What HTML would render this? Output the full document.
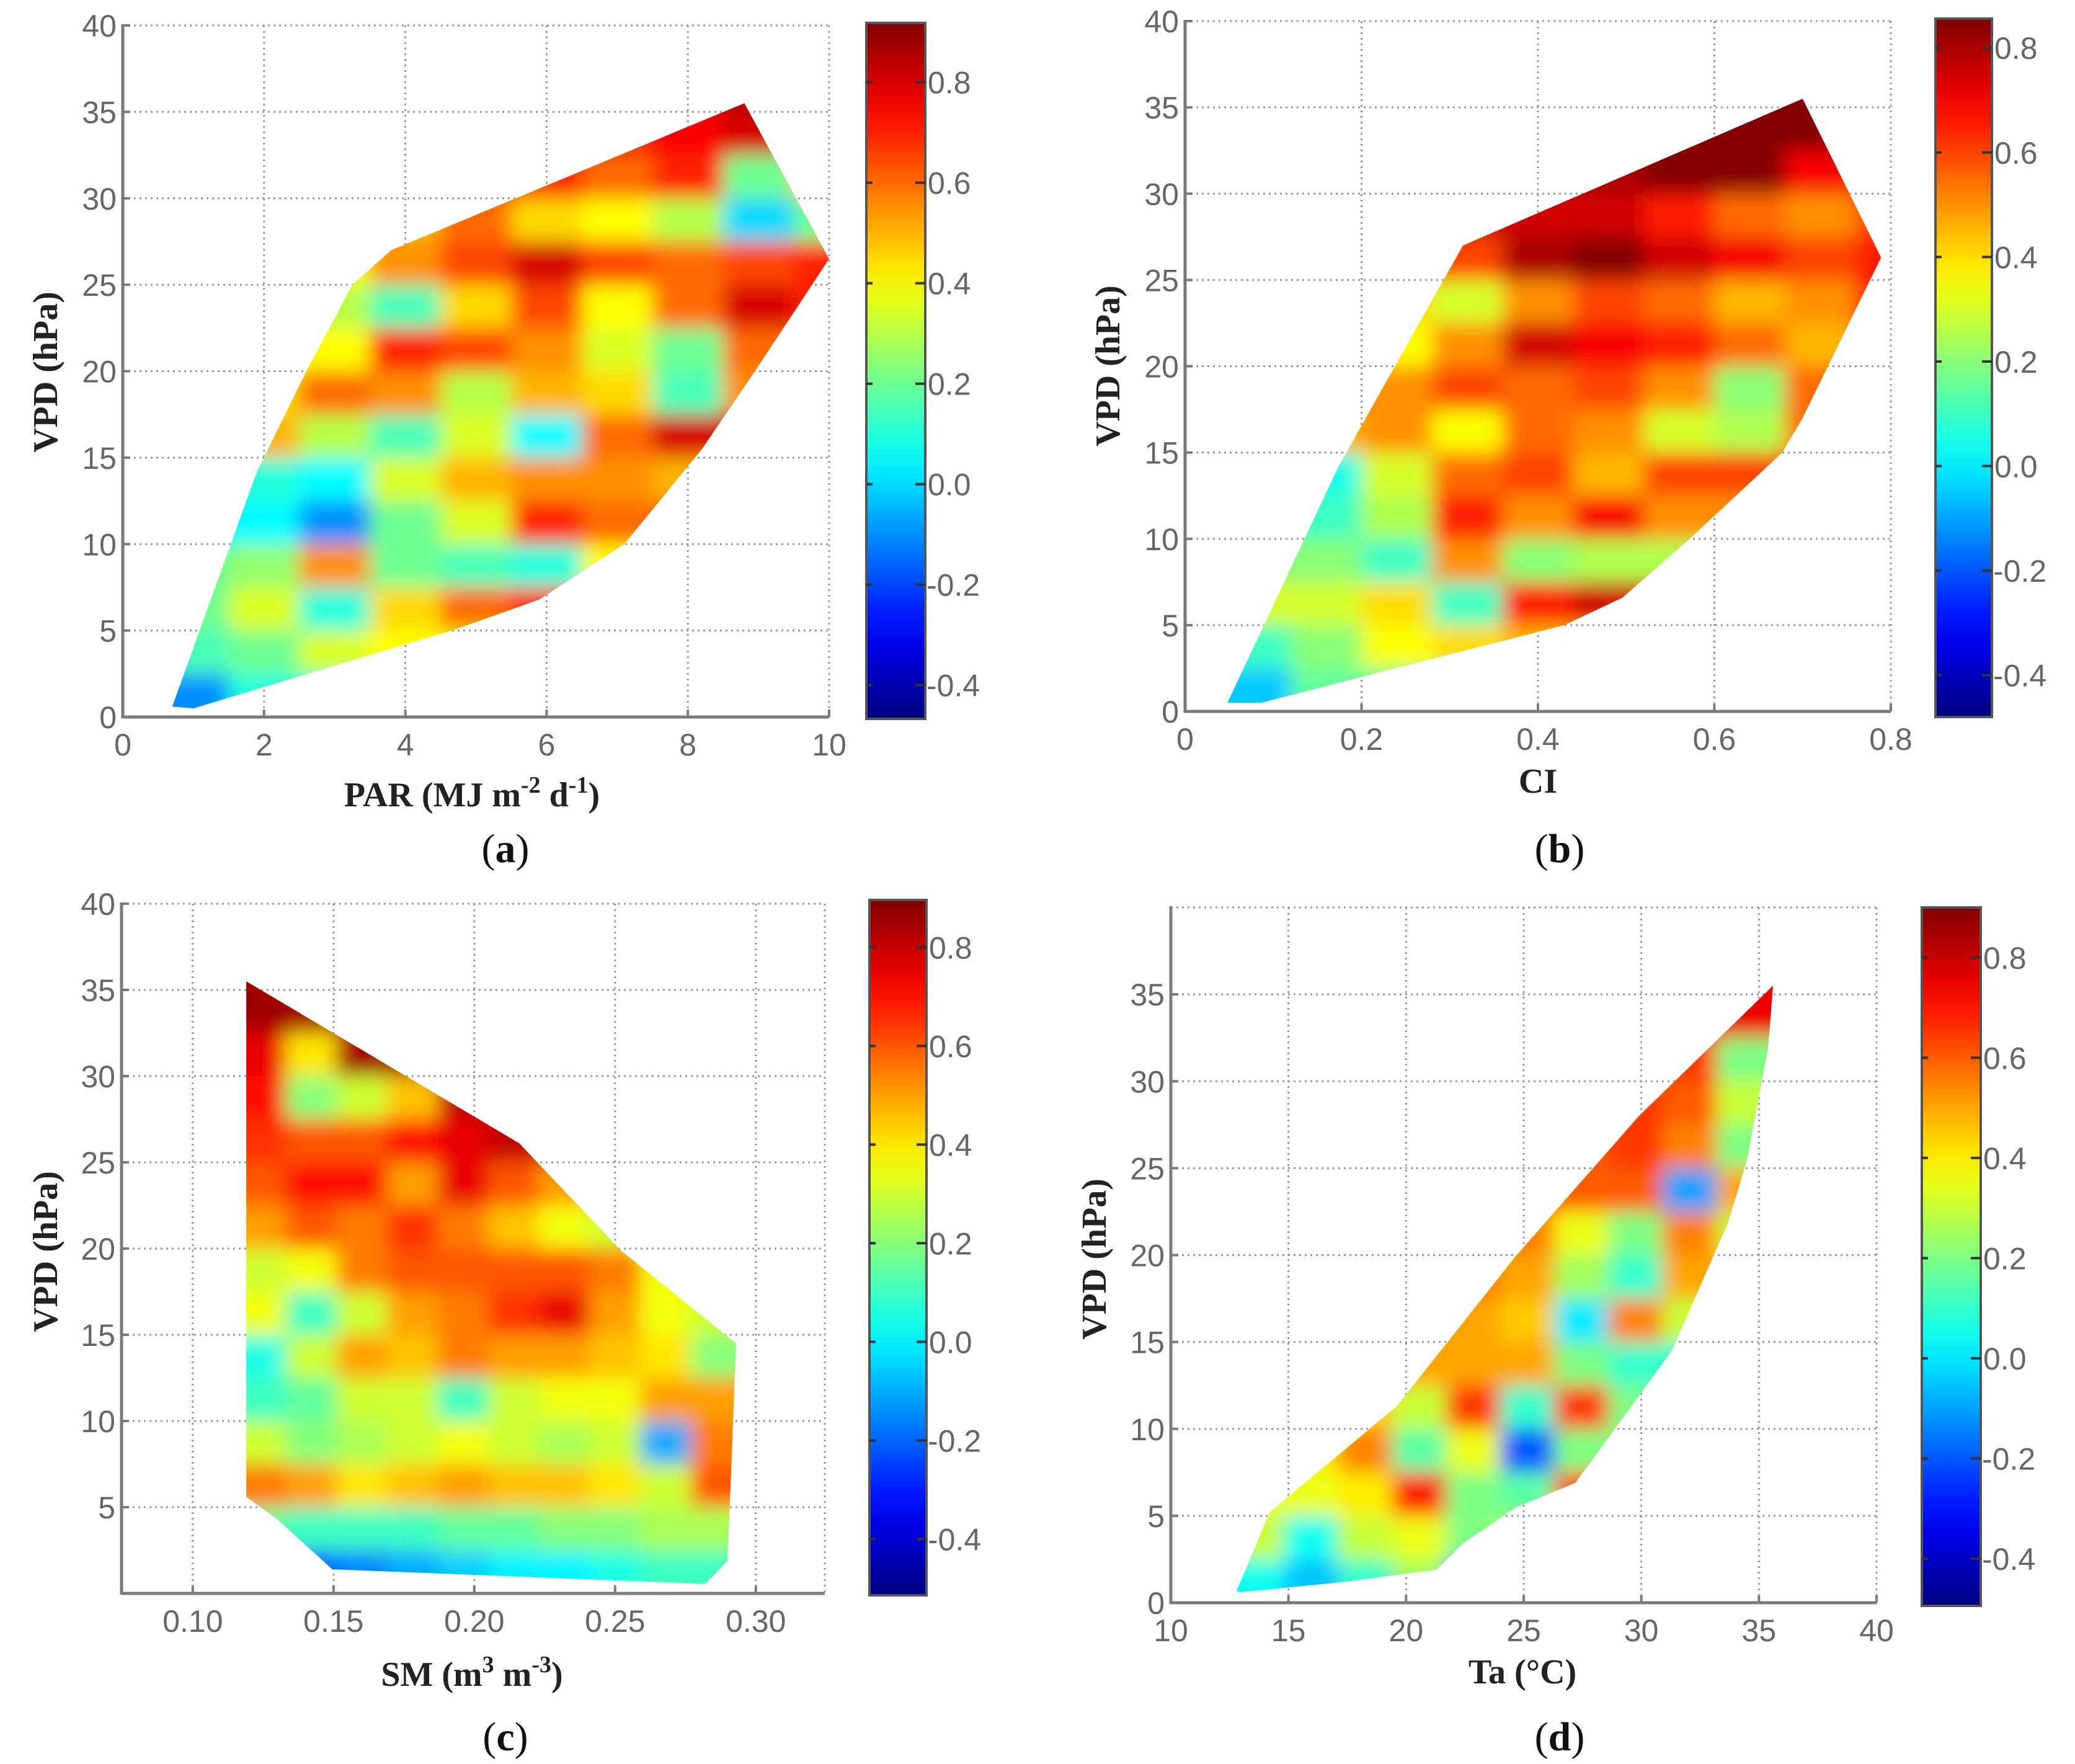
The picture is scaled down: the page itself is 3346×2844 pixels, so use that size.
<!DOCTYPE html>
<html><head><meta charset="utf-8"><title>VPD correlation maps</title>
<style>
html,body{margin:0;padding:0;background:#fff;}
svg{display:block;}
.tick{font-family:"Liberation Sans",sans-serif;font-size:50px;fill:#666;}
.axl{font-family:"Liberation Serif",serif;font-weight:bold;font-size:56px;fill:#222;}
.pl{font-family:"Liberation Serif",serif;font-size:66px;fill:#111;}
</style></head>
<body>
<svg id="fig" width="3346" height="2844" viewBox="0 0 3346 2844" xmlns="http://www.w3.org/2000/svg">
<defs>
<filter id="soft" x="-10%" y="-10%" width="120%" height="120%"><feGaussianBlur stdDeviation="16"/></filter>
</defs>
<g id="layer"></g>
<text class="axl" transform="translate(92,600) rotate(-90)" text-anchor="middle">VPD (hPa)</text>
<text class="axl" x="761" y="1300" text-anchor="middle">PAR (MJ m<tspan dy="-22" font-size="38">-2</tspan><tspan dy="22"> d</tspan><tspan dy="-22" font-size="38">-1</tspan><tspan dy="22">)</tspan></text>
<text class="pl" x="815" y="1390" text-anchor="middle">(<tspan font-weight="bold">a</tspan>)</text>
<text class="axl" transform="translate(1805,590) rotate(-90)" text-anchor="middle">VPD (hPa)</text>
<text class="axl" x="2480" y="1278" text-anchor="middle">CI</text>
<text class="pl" x="2515" y="1390" text-anchor="middle">(<tspan font-weight="bold">b</tspan>)</text>
<text class="axl" transform="translate(92,2018) rotate(-90)" text-anchor="middle">VPD (hPa)</text>
<text class="axl" x="761" y="2718" text-anchor="middle">SM (m<tspan dy="-22" font-size="38">3</tspan><tspan dy="22"> m</tspan><tspan dy="-22" font-size="38">-3</tspan><tspan dy="22">)</tspan></text>
<text class="pl" x="815" y="2822" text-anchor="middle">(<tspan font-weight="bold">c</tspan>)</text>
<text class="axl" transform="translate(1783,2030) rotate(-90)" text-anchor="middle">VPD (hPa)</text>
<text class="axl" x="2455" y="2714" text-anchor="middle">Ta (°C)</text>
<text class="pl" x="2515" y="2822" text-anchor="middle">(<tspan font-weight="bold">d</tspan>)</text>
</svg>
<script>
// ---- shared data ----
const vpdBandTops = [37.5,35,32.5,30,27.5,25,22.5,20,17.5,15,12.5,10,7.5,5,2.5];
const vpdBandHeight = 2.5;
const cbarTicks = [-0.4,-0.2,0,0.2,0.4,0.6,0.8];
const cbarTickLabels = ["-0.4","-0.2","0.0","0.2","0.4","0.6","0.8"];
const n = null;

// ---- panel a: PAR ----
const parColCenters = [1,2,3,4,5,6,7,8,9,10];
const parGrid = [
 [n,n,n,n,n,n,n,.8,.85,n],
 [n,n,n,n,n,n,.7,.75,.8,.75],
 [n,n,n,n,n,.7,.6,.7,.2,.5],
 [n,n,n,.5,.6,.45,.4,.3,0,.2],
 [n,n,.4,.55,.65,.8,.65,.6,.65,.7],
 [n,n,.3,.15,.45,.65,.4,.6,.8,.7],
 [n,n,.4,.7,.65,.55,.35,.2,.6,.6],
 [n,.45,.6,.55,.3,.5,.45,.15,.55,n],
 [n,.5,.3,.15,.35,.05,.6,.8,n,n],
 [n,.1,.05,.35,.5,.55,.55,.5,n,n],
 [n,.05,-.1,.2,.35,.7,.6,n,n,n],
 [.2,.25,.55,.2,.15,.1,.4,n,n,n],
 [.2,.35,.1,.45,.6,.7,n,n,n,n],
 [.15,.2,.35,.4,n,n,n,n,n,n],
 [-.1,.1,n,n,n,n,n,n,n,n]];
const parOutlineX = [0.7,1.9,2.6,3.25,3.8,8.8,10,8.95,8.2,7.1,5.9,4.66,4,1,0.7];
const parOutlineY = [0.6,14.2,20,25,27,35.5,26.5,20,15.5,10,6.8,5,4.2,0.5,0.6];
const parXTicks = [0,2,4,6,8,10];
const parXTickLabels = ["0","2","4","6","8","10"];
const parYTicks = [0,5,10,15,20,25,30,35,40];

// ---- panel b: CI ----
const ciColCenters = [0.08,0.16,0.24,0.32,0.40,0.48,0.56,0.64,0.72,0.80];
const ciGrid = [
 [n,n,n,n,n,n,n,.85,.85,n],
 [n,n,n,n,n,n,.85,.85,.85,n],
 [n,n,n,n,.8,.8,.85,.85,.7,.6],
 [n,n,n,n,.75,.75,.65,.55,.5,.6],
 [n,n,n,.6,.8,.85,.75,.7,.6,.65],
 [n,n,.4,.3,.5,.6,.55,.45,.5,.65],
 [n,n,.35,.5,.75,.7,.65,.55,.45,.6],
 [n,n,.5,.6,.55,.6,.5,.2,.55,n],
 [n,.45,.5,.35,.55,.5,.3,.25,.55,n],
 [n,.05,.3,.55,.6,.45,.6,.6,n,n],
 [n,.1,.25,.65,.5,.7,.5,n,n,n],
 [n,.2,.1,.5,.2,.25,.25,n,n,n],
 [n,.3,.4,.1,.65,.75,n,n,n,n],
 [.1,.2,.35,.4,.45,n,n,n,n,n],
 [-.05,.15,n,n,n,n,n,n,n,n]];
const ciOutlineX = [0.048,0.174,0.315,0.70,0.789,0.70,0.677,0.572,0.496,0.43,0.086,0.048];
const ciOutlineY = [0.5,14.2,27,35.5,26.3,17,15,10,6.6,5,0.5,0.5];
const ciXTicks = [0,0.2,0.4,0.6,0.8];
const ciXTickLabels = ["0","0.2","0.4","0.6","0.8"];
const ciYTicks = [0,5,10,15,20,25,30,35,40];

// ---- panel c: SM ----
const smColCenters = [0.124,0.142,0.160,0.178,0.196,0.214,0.232,0.250,0.268,0.286];
const smGrid = [
 [.85,n,n,n,n,n,n,n,n,n],
 [.85,.85,.8,n,n,n,n,n,n,n],
 [.75,.4,.85,.85,n,n,n,n,n,n],
 [.7,.2,.3,.45,.8,.85,n,n,n,n],
 [.65,.6,.6,.7,.75,.8,.8,n,n,n],
 [.6,.7,.7,.5,.75,.6,.5,n,n,n],
 [.5,.6,.55,.65,.55,.45,.35,.3,n,n],
 [.3,.35,.55,.6,.6,.6,.6,.55,.35,.3],
 [.35,.1,.3,.5,.55,.65,.75,.5,.35,.3],
 [.05,.3,.5,.45,.55,.5,.5,.45,.4,.2],
 [.1,.15,.3,.3,.1,.3,.35,.35,.5,.5],
 [.3,.2,.25,.3,.35,.3,.25,.3,-.1,.55],
 [.55,.5,.4,.45,.5,.45,.45,.4,.3,.6],
 [.15,.1,.1,.1,.15,.15,.2,.2,.25,.25],
 [-.2,-.2,-.15,-.1,-.05,0,0,.05,.1,.1]];
const smOutlineX = [0.119,0.216,0.252,0.293,0.29,0.282,0.1496,0.13,0.119,0.119];
const smOutlineY = [35.5,26.1,19.9,14.5,1.9,0.55,1.4,4.3,5.6,35.5];
const smXTicks = [0.10,0.15,0.20,0.25,0.30];
const smXTickLabels = ["0.10","0.15","0.20","0.25","0.30"];
const smYTicks = [5,10,15,20,25,30,35,40];

// ---- panel d: Ta ----
const taColCenters = [13.65,15.95,18.25,20.55,22.85,25.15,27.45,29.75,32.05,34.35];
const taGrid = [
 [n,n,n,n,n,n,n,n,n,.75],
 [n,n,n,n,n,n,n,n,.7,.75],
 [n,n,n,n,n,n,n,n,.65,.2],
 [n,n,n,n,n,n,n,.65,.6,.3],
 [n,n,n,n,n,n,.6,.65,.55,.2],
 [n,n,n,n,n,n,.6,.6,-.1,.5],
 [n,n,n,n,n,.55,.35,.2,.55,.3],
 [n,n,n,n,.55,.5,.25,.1,.5,n],
 [n,n,n,n,.5,.45,0,.55,.3,n],
 [n,n,n,.5,.5,.5,.2,.1,n,n],
 [n,n,.45,.3,.65,.1,.65,.2,n,n],
 [n,.4,.55,.15,.35,-.2,.2,n,n,n],
 [n,.35,.4,.7,.2,.15,.65,n,n,n],
 [.3,.05,.3,.35,.2,.3,n,n,n,n],
 [.05,-.05,.1,.25,-.1,n,n,n,n,n]];
const taOutlineX = [12.8,14.2,19.6,24.7,29.9,35.6,35.4,34.5,33.7,31.3,29.2,27.2,24.7,22.4,21.3,17.4,12.9];
const taOutlineY = [0.7,5.2,11.3,20,28,35.5,32,25.5,21.9,14.5,10.6,6.9,5.5,3.4,1.9,1.2,0.6];
const taXTicks = [10,15,20,25,30,35,40];
const taXTickLabels = ["10","15","20","25","30","35","40"];
const taYTicks = [0,5,10,15,20,25,30,35];

// ---- layout (pixels) ----
const panels = [
 {id:'a',L:198,R:1337,T:41,B:1156,x0:0,x1:10,cb:[1397,1492,37,1159],c0:-0.467,c1:0.918,cols:parColCenters,grid:parGrid,ox:parOutlineX,oy:parOutlineY,xt:parXTicks,xl:parXTickLabels,yt:parYTicks},
 {id:'b',L:1911,R:3049,T:34,B:1147,x0:0,x1:0.8,cb:[3121,3212,30,1156],c0:-0.48,c1:0.856,cols:ciColCenters,grid:ciGrid,ox:ciOutlineX,oy:ciOutlineY,xt:ciXTicks,xl:ciXTickLabels,yt:ciYTicks},
 {id:'c',L:196,R:1330,T:1457,B:2569,x0:0.0747,x1:0.3245,cb:[1402,1494,1451,2572],c0:-0.514,c1:0.896,cols:smColCenters,grid:smGrid,ox:smOutlineX,oy:smOutlineY,xt:smXTicks,xl:smXTickLabels,yt:smYTicks},
 {id:'d',L:1888,R:3026,T:1463,B:2584,x0:10,x1:40,cb:[3099,3194,1463,2589],c0:-0.494,c1:0.90,cols:taColCenters,grid:taGrid,ox:taOutlineX,oy:taOutlineY,xt:taXTicks,xl:taXTickLabels,yt:taYTicks}
];

const NS = 'http://www.w3.org/2000/svg';
const layer = document.getElementById('layer');
function mk(tag, parent){ const e=document.createElementNS(NS,tag); parent.appendChild(e); return e; }
function cl(v){ return Math.max(0,Math.min(1,v)); }
function jet(t){
  t=cl(t);
  const r=cl(1.5-Math.abs(4*t-3)), g=cl(1.5-Math.abs(4*t-2)), b=cl(1.5-Math.abs(4*t-1));
  return 'rgb('+Math.round(r*255)+','+Math.round(g*255)+','+Math.round(b*255)+')';
}
function fillRow(row){
  const out=row.slice();
  for(let i=0;i<row.length;i++){
    if(out[i]===null){
      let best=null,bd=1e9;
      for(let j=0;j<row.length;j++){ if(row[j]!==null && Math.abs(j-i)<bd){bd=Math.abs(j-i);best=row[j];} }
      out[i]=best;
    }
  }
  return out;
}

panels.forEach(p=>{
  const sx = v => p.L + (v-p.x0)/(p.x1-p.x0)*(p.R-p.L);
  const sy = v => p.B - v/40*(p.B-p.T);
  const g = mk('g', layer);
  
  

  const grid = mk('g', g);
  
  
  p.xt.forEach(v=>{
    const l=mk('line',grid); l.setAttribute('x1',sx(v)); l.setAttribute('x2',sx(v)); l.setAttribute('y1',p.T); l.setAttribute('y2',p.B);
    l.setAttribute('stroke','#9a9a9a'); l.setAttribute('stroke-width','3'); l.setAttribute('stroke-dasharray','3 6');
  });
  [0,5,10,15,20,25,30,35,40].forEach(v=>{
    const l=mk('line',grid); l.setAttribute('x1',p.L); l.setAttribute('x2',p.R); l.setAttribute('y1',sy(v)); l.setAttribute('y2',sy(v));
    l.setAttribute('stroke','#9a9a9a'); l.setAttribute('stroke-width','3'); l.setAttribute('stroke-dasharray','3 6');
  });
  const rt=mk('line',grid); rt.setAttribute('x1',p.R); rt.setAttribute('x2',p.R); rt.setAttribute('y1',p.T); rt.setAttribute('y2',p.B);
  rt.setAttribute('stroke','#9a9a9a'); rt.setAttribute('stroke-width','3'); rt.setAttribute('stroke-dasharray','3 6');

  const cp = mk('clipPath', g); cp.setAttribute('id','clip-'+p.id);
  const poly = mk('polygon', cp);
  poly.setAttribute('points', p.ox.map((x,i)=>sx(x)+','+sy(p.oy[i])).join(' '));

  const clipG = mk('g', g);
  clipG.setAttribute('clip-path','url(#clip-'+p.id+')');
  
  
  const blurG = mk('g', clipG);
  blurG.setAttribute('filter','url(#soft)');
  const cols = p.cols;
  const edges = [];
  for(let i=0;i<=cols.length;i++){
    if(i===0) edges.push(cols[0]-(cols[1]-cols[0])/2);
    else if(i===cols.length) edges.push(cols[i-1]+(cols[i-1]-cols[i-2])/2);
    else edges.push((cols[i-1]+cols[i])/2);
  }
  const pad = (cols[1]-cols[0])*1.5;
  p.grid.forEach((rawRow,ri)=>{
    const row = fillRow(rawRow);
    const top = vpdBandTops[ri], bot = top - vpdBandHeight;
    row.forEach((val,ci)=>{
      let xa = edges[ci], xb = edges[ci+1];
      if(ci===0) xa -= pad;
      if(ci===row.length-1) xb += pad;
      let yt = top + (ri===0?2.5:0), yb = bot - (ri===p.grid.length-1?2.5:0);
      const r = mk('rect', blurG);
      
      
      r.setAttribute('x', sx(xa)); r.setAttribute('width', sx(xb)-sx(xa)+1);
      r.setAttribute('y', sy(yt)); r.setAttribute('height', sy(yb)-sy(yt)+1);
      r.setAttribute('fill', jet((val-p.c0)/(p.c1-p.c0)));
    });
  });

  const ax = mk('g', g);
  
  
  const yl=mk('line',ax); yl.setAttribute('x1',p.L); yl.setAttribute('x2',p.L); yl.setAttribute('y1',p.T-2); yl.setAttribute('y2',p.B+2); yl.setAttribute('stroke','#7a7a7a'); yl.setAttribute('stroke-width','5');
  const xl=mk('line',ax); xl.setAttribute('x1',p.L); xl.setAttribute('x2',p.R); xl.setAttribute('y1',p.B); xl.setAttribute('y2',p.B); xl.setAttribute('stroke','#7a7a7a'); xl.setAttribute('stroke-width','5');
  p.xt.forEach((v,i)=>{
    const t=mk('line',ax); t.setAttribute('x1',sx(v)); t.setAttribute('x2',sx(v)); t.setAttribute('y1',p.B); t.setAttribute('y2',p.B-12); t.setAttribute('stroke','#7a7a7a'); t.setAttribute('stroke-width','4');
    const tx=mk('text',ax);
    
    
    tx.setAttribute('class','tick'); tx.setAttribute('x',sx(v)); tx.setAttribute('y',p.B+62); tx.setAttribute('text-anchor','middle');
    tx.textContent=p.xl[i];
  });
  p.yt.forEach(v=>{
    const t=mk('line',ax); t.setAttribute('x1',p.L); t.setAttribute('x2',p.L+12); t.setAttribute('y1',sy(v)); t.setAttribute('y2',sy(v)); t.setAttribute('stroke','#7a7a7a'); t.setAttribute('stroke-width','4');
    const tx=mk('text',ax);
    
    
    tx.setAttribute('class','tick'); tx.setAttribute('x',p.L-10); tx.setAttribute('y',sy(v)+18); tx.setAttribute('text-anchor','end');
    tx.textContent=String(v);
  });

  const [cx0,cx1,cy0,cy1] = p.cb;
  const cbG = mk('g', g);
  
  
  const lg = mk('linearGradient', cbG); lg.setAttribute('id','grad-'+p.id);
  lg.setAttribute('x1','0'); lg.setAttribute('y1','1'); lg.setAttribute('x2','0'); lg.setAttribute('y2','0');
  for(let k=0;k<=20;k++){
    const s=mk('stop',lg); s.setAttribute('offset',k/20); s.setAttribute('stop-color',jet(k/20));
  }
  const cr = mk('rect', cbG);
  cr.setAttribute('x',cx0); cr.setAttribute('y',cy0); cr.setAttribute('width',cx1-cx0); cr.setAttribute('height',cy1-cy0);
  cr.setAttribute('fill','url(#grad-'+p.id+')'); cr.setAttribute('stroke','#555'); cr.setAttribute('stroke-width','4');
  const cys = v => cy1 - (v-p.c0)/(p.c1-p.c0)*(cy1-cy0);
  cbarTicks.forEach((v,i)=>{
    const a=mk('line',cbG); a.setAttribute('x1',cx0); a.setAttribute('x2',cx0+10); a.setAttribute('y1',cys(v)); a.setAttribute('y2',cys(v)); a.setAttribute('stroke','#333'); a.setAttribute('stroke-width','4');
    const b=mk('line',cbG); b.setAttribute('x1',cx1-16); b.setAttribute('x2',cx1); b.setAttribute('y1',cys(v)); b.setAttribute('y2',cys(v)); b.setAttribute('stroke','#333'); b.setAttribute('stroke-width','4');
    const tx=mk('text',cbG);
    
    
    tx.setAttribute('class','tick'); tx.setAttribute('x',cx1+(v<0?2:4)); tx.setAttribute('y',cys(v)+18);
    tx.textContent=cbarTickLabels[i];
  });
});
</script>
</body></html>
